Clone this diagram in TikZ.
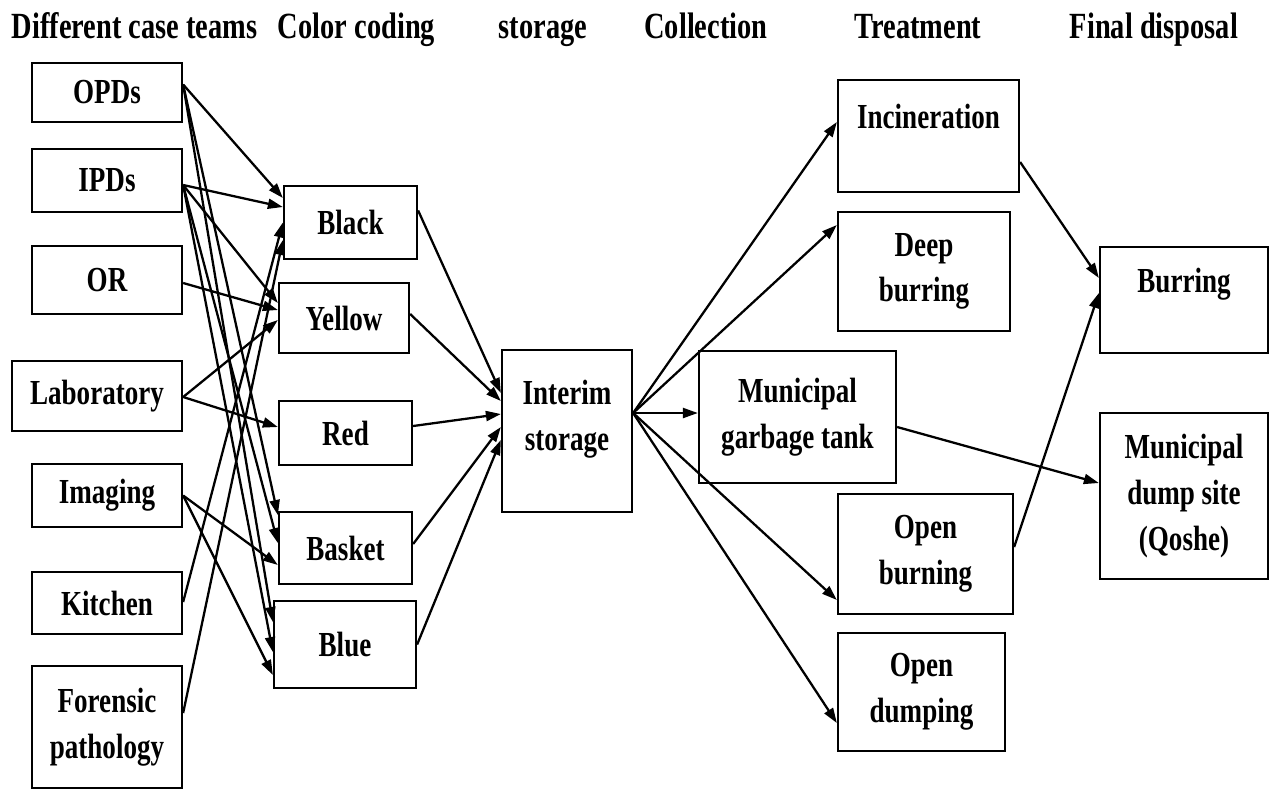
\documentclass[tikz,border=0pt]{standalone}
\usepackage{fontspec}
\setmainfont{Liberation Serif}[FakeStretch=0.77]
\usetikzlibrary{arrows.meta,calc}
\tikzset{box/.style={draw,line width=1.3pt,inner sep=0pt,align=center,font=\bfseries\fontsize{20}{26}\selectfont},
flow/.style={line width=1.3pt,-{Triangle[length=0.3cm,width=0.2cm]}},
head/.style={anchor=base,font=\bfseries\fontsize{21}{26}\selectfont}}
\begin{document}
\begin{tikzpicture}[x=0.02cm,y=-0.02cm]
\useasboundingbox (0,0) rectangle (1274,789);
\foreach \n/\x/\t in {h1/134.5/Different case teams,h2/356.5/Color coding,h3/543/storage,h4/706/Collection,h5/918/Treatment,h6/1154/Final disposal}{
\node[head] (\n) at (\x,38) {\t};}
\foreach \n/\x/\y/\w/\h/\t in {opd/107/92.5/150/59/OPDs,ipd/107/180.5/150/63/IPDs,ort/107/280/150/68/OR,lab/97/396/170/70/Laboratory,img/107/495.5/150/63/Imaging,kit/107/603/150/62/Kitchen,fore/107/727/150/122/{Forensic\\pathology},
black/350.5/222.5/133/73/Black,yellow/344/318/130/70/Yellow,red/345.5/433/133/64/Red,basket/345.5/548/133/72/Basket,blue/345/644.5/142/87/Blue,
mun/797.5/417/197/132/{Municipal\\garbage tank},deep/924/271.5/172/119/{Deep\\burring},openb/925.5/554/175/120/{Open\\burning},opend/921.5/692/167/118/{Open\\dumping},dump/1184/496/168/166/{Municipal\\dump site\\(Qoshe)}}{
\node[box,minimum width=\w*0.02cm,minimum height=\h*0.02cm] (\n) at (\x,\y) {\t};}
\node[box,minimum width=2.6cm,text height=2cm,text depth=1.24cm] (interim) at (567,431) {Interim\\storage};
\node[box,minimum width=3.62cm,text height=0.96cm,text depth=1.28cm] (inc) at (928.5,136) {Incineration};
\node[box,minimum width=3.36cm,text height=0.9cm,text depth=1.22cm] (bur) at (1184,300) {Burring};
\foreach \a/\p/\b/\q in {opd/-8/black/-24.5,opd/-8/basket/-33,opd/-8/blue/-22.5,ipd/4.5/black/-15.5,ipd/4.5/yellow/-15,ipd/4.5/basket/-5,ipd/4.5/blue/7.5,
ort/3/yellow/-8,lab/1/yellow/2,lab/1/red/-6,img/0/basket/17,img/0/blue/30.5,kit/-1/black/0,fore/-14/black/17.5,
black/-12/interim/-38,yellow/-4/interim/-30,red/-7/interim/-17,basket/-4/interim/-4,blue/0/interim/9,
interim/-18/inc/-14,interim/-18/deep/-46.5,interim/-18/mun/-4,interim/-18/openb/46,interim/-18/opend/31,
mun/10/dump/-13,inc/26/bur/-22,openb/-7/bur/-7}{
\draw[flow] ($(\a.east)+(0,\p)$) -- ($(\b.west)+(0,\q)$);}
\end{tikzpicture}
\end{document}
